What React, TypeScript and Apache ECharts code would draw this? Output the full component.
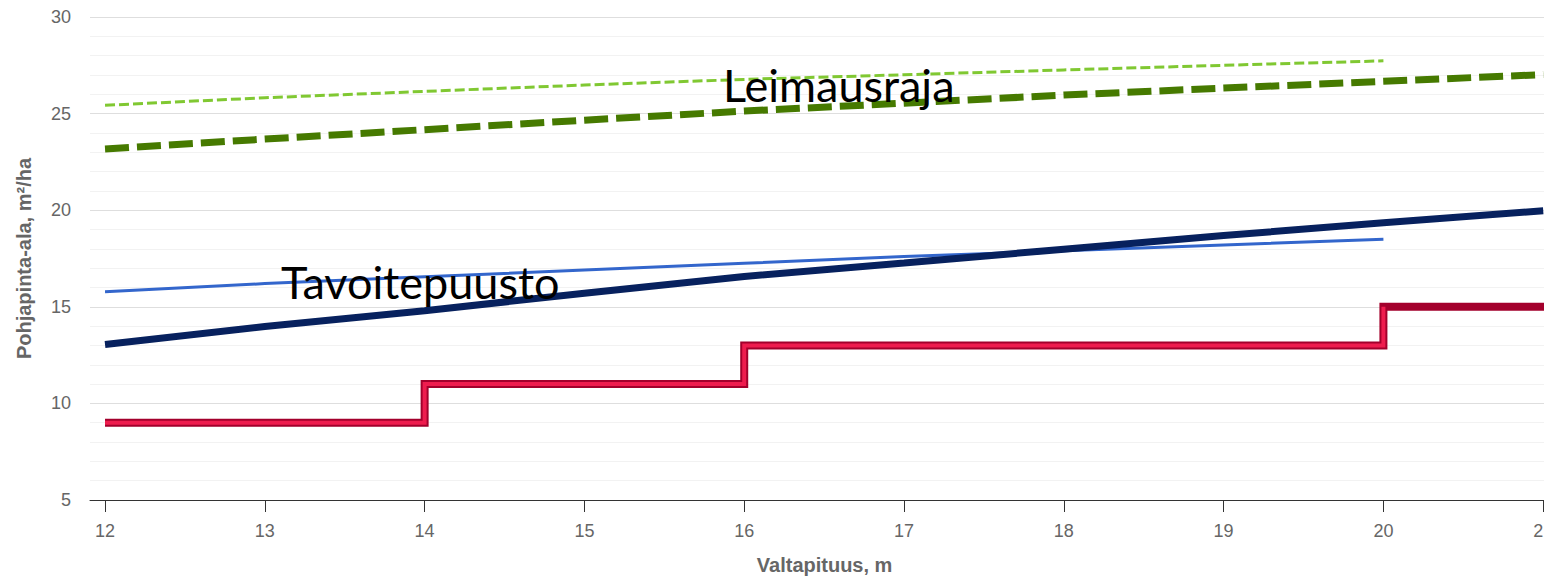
import React, { useEffect, useRef } from "react";
import * as echarts from "echarts";

// x: Valtapituus, m
const xTickValues = [12, 13, 14, 15, 16, 17, 18, 19, 20, 21];
const heightsShort = [12, 13, 14, 15, 16, 17, 18, 19, 20];
const heightsLong = [12, 13, 14, 15, 16, 17, 18, 19, 20, 21];

// Leimausraja (thin light-green dashed)
const leimausThinValues = [25.43, 25.82, 26.15, 26.48, 26.77, 27.01, 27.26, 27.5, 27.73];
// Leimausraja (thick dark-green dashed)
const leimausThickValues = [23.17, 23.68, 24.17, 24.66, 25.13, 25.54, 25.96, 26.32, 26.67, 27.02];
// Tavoitepuusto (thin blue)
const tavoiteThinValues = [15.78, 16.2, 16.55, 16.9, 17.25, 17.6, 17.9, 18.2, 18.5];
// Tavoitepuusto (thick navy)
const tavoiteThickValues = [13.05, 13.98, 14.8, 15.7, 16.57, 17.27, 17.98, 18.69, 19.35, 19.97];
// Step line (red)
const stepHeights = [12, 14, 16, 20, 21.1];
const stepValues = [9, 11, 13, 15, 15];

const zip = (xs: number[], ys: number[]) => xs.map((x, i) => [x, ys[i]]);

export default function App() {
  const ref = useRef<HTMLDivElement>(null);

  useEffect(() => {
    if (!ref.current) return;
    const chart = echarts.init(ref.current, undefined, { renderer: "svg" });
    const labelFont = "'Liberation Sans', Arial, sans-serif";
    chart.setOption({
      animation: false,
      backgroundColor: "#ffffff",
      grid: { left: 90, right: 40.8, top: 17, bottom: 76, containLabel: false },
      xAxis: {
        type: "value",
        min: 11.906,
        max: 21.1,
        name: "Valtapituus, m",
        nameLocation: "middle",
        nameGap: 55,
        nameTextStyle: { color: "#666666", fontSize: 20, fontWeight: "bold", fontFamily: labelFont },
        axisLine: { show: true, lineStyle: { color: "#333333", width: 1 } },
        axisTick: { show: true, length: 12, lineStyle: { color: "#333333" }, customValues: xTickValues },
        axisLabel: {
          color: "#666666",
          fontSize: 18,
          fontFamily: labelFont,
          margin: 22,
          customValues: xTickValues,
          formatter: (v: number) => String(Math.round(v)),
        },
        splitLine: { show: false },
      },
      yAxis: {
        type: "value",
        min: 5,
        max: 30,
        interval: 5,
        name: "Pohjapinta-ala, m²/ha",
        nameLocation: "middle",
        nameGap: 56,
        nameTextStyle: { color: "#666666", fontSize: 20, fontWeight: "bold", fontFamily: labelFont },
        axisLine: { show: false },
        axisTick: { show: false },
        axisLabel: { color: "#666666", fontSize: 18, fontFamily: labelFont, margin: 19 },
        splitLine: { show: true, lineStyle: { color: "#dedede", width: 1 } },
        minorTick: { show: false, splitNumber: 5 },
        minorSplitLine: { show: true, lineStyle: { color: "#f2f2f2", width: 1 } },
      },
      series: [
        {
          type: "line",
          data: zip(stepHeights, stepValues),
          step: "end",
          showSymbol: false,
          silent: true,
          lineStyle: { color: "#a3002c", width: 8, join: "miter", cap: "butt" },
          z: 2,
        },
        {
          type: "line",
          data: zip(stepHeights.slice(0, 4), stepValues.slice(0, 4)),
          step: "end",
          showSymbol: false,
          silent: true,
          lineStyle: { color: "#ee1c4e", width: 4, join: "miter", cap: "butt" },
          z: 3,
        },
        {
          type: "line",
          data: zip(heightsShort, tavoiteThinValues),
          showSymbol: false,
          silent: true,
          lineStyle: { color: "#3366cc", width: 3 },
          z: 4,
        },
        {
          type: "line",
          data: zip(heightsLong, tavoiteThickValues),
          showSymbol: false,
          silent: true,
          lineStyle: { color: "#07215e", width: 7 },
          z: 5,
        },
        {
          type: "line",
          data: zip(heightsShort, leimausThinValues),
          showSymbol: false,
          silent: true,
          lineStyle: { color: "#80c832", width: 3, type: [10, 4] },
          z: 4,
        },
        {
          type: "line",
          data: zip(heightsLong, leimausThickValues),
          showSymbol: false,
          silent: true,
          lineStyle: { color: "#467a00", width: 7, type: [24, 8] },
          z: 5,
        },
      ],
      graphic: [
        {
          type: "text",
          x: 723,
          y: 85,
          z: 100,
          style: {
            text: "Leimausraja",
            fontSize: 45,
            fontFamily: "Lato, 'Open Sans', sans-serif",
            fill: "#000000",
            align: "left",
            verticalAlign: "middle",
          },
        },
        {
          type: "text",
          x: 281,
          y: 282,
          z: 100,
          style: {
            text: "Tavoitepuusto",
            fontSize: 45,
            fontFamily: "Lato, 'Open Sans', sans-serif",
            fill: "#000000",
            align: "left",
            verticalAlign: "middle",
          },
        },
      ],
    });
    return () => chart.dispose();
  }, []);

  return (
    <div
      style={{
        position: "fixed",
        left: 0,
        top: 0,
        width: 1544,
        height: 580,
        overflow: "hidden",
        background: "#ffffff",
      }}
    >
      <div ref={ref} style={{ width: 1600, height: 580 }} />
    </div>
  );
}
